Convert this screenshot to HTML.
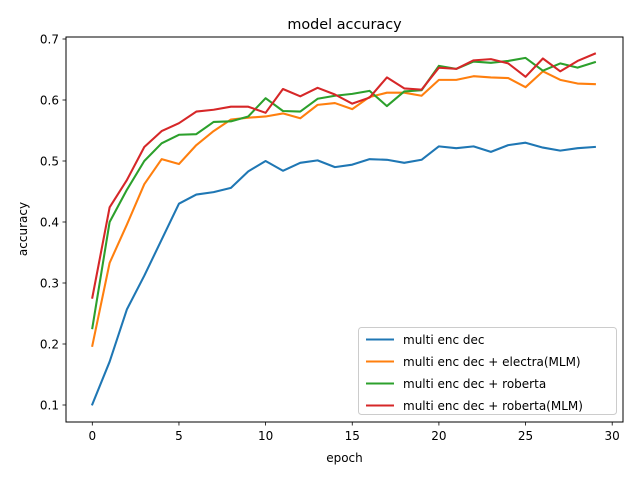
<!DOCTYPE html>
<html><head><meta charset="utf-8"><style>
body{margin:0;background:#fff;}
svg{display:block;font-family:"DejaVu Sans","Liberation Sans",sans-serif;}
</style></head><body>
<svg id="chart" width="640" height="480">
<rect width="640" height="480" fill="#fff"/>
<text x="344.5" y="29" font-size="14.4" text-anchor="middle">model accuracy</text>
<g id="plot"></g>
<rect x="66" y="37" width="557" height="385" fill="none" stroke="#000" stroke-width="1"/>
<text x="344.5" y="462" font-size="12" text-anchor="middle">epoch</text>
<text transform="translate(27,229) rotate(-90)" font-size="12" text-anchor="middle">accuracy</text>
<g id="legend"></g>
</svg>
<script>
const epochs=[0,1,2,3,4,5,6,7,8,9,10,11,12,13,14,15,16,17,18,19,20,21,22,23,24,25,26,27,28,29];
const seriesNames=["multi enc dec","multi enc dec + electra(MLM)","multi enc dec + roberta","multi enc dec + roberta(MLM)"];
const seriesColors=["#1f77b4","#ff7f0e","#2ca02c","#d62728"];
const blueValues=[0.101,0.171,0.257,0.312,0.371,0.430,0.445,0.449,0.456,0.483,0.500,0.484,0.497,0.501,0.490,0.494,0.503,0.502,0.497,0.502,0.524,0.521,0.524,0.515,0.526,0.530,0.522,0.517,0.521,0.523];
const orangeValues=[0.197,0.333,0.396,0.462,0.503,0.495,0.526,0.549,0.568,0.571,0.573,0.578,0.570,0.592,0.595,0.585,0.605,0.612,0.612,0.607,0.633,0.633,0.639,0.637,0.636,0.621,0.647,0.633,0.627,0.626];
const greenValues=[0.226,0.400,0.453,0.500,0.529,0.543,0.544,0.564,0.565,0.573,0.603,0.582,0.581,0.602,0.607,0.610,0.615,0.590,0.614,0.616,0.656,0.651,0.663,0.661,0.664,0.669,0.648,0.660,0.653,0.662];
const redValues=[0.276,0.424,0.469,0.523,0.549,0.562,0.581,0.584,0.589,0.589,0.579,0.618,0.606,0.620,0.609,0.594,0.604,0.637,0.619,0.617,0.653,0.651,0.665,0.667,0.660,0.638,0.668,0.647,0.664,0.676];
const xTicks=[0,5,10,15,20,25,30];
const yTicks=[0.1,0.2,0.3,0.4,0.5,0.6,0.7];
const allSeries=[blueValues,orangeValues,greenValues,redValues];
const NS="http://www.w3.org/2000/svg";
function xs(v){return 92.3+v*17.33;}
function ys(v){return 405-(v-0.1)*610;}
const plot=document.getElementById('plot');
function mk(tag,attrs,parent){const e=document.createElementNS(NS,tag);for(const k in attrs)e.setAttribute(k,attrs[k]);parent.appendChild(e);return e;}
xTicks.forEach(t=>{
  const l=mk('line',{x1:xs(t),x2:xs(t),y1:422,y2:425.5,stroke:'#000','stroke-width':0.8},plot);
  
  
  const tx=mk('text',{x:xs(t),y:440,'font-size':12,'text-anchor':'middle'},plot);
  tx.textContent=String(t);
  
  
});
yTicks.forEach(t=>{
  const l=mk('line',{x1:62.5,x2:66,y1:ys(t),y2:ys(t),stroke:'#000','stroke-width':0.8},plot);
  
  
  const tx=mk('text',{x:59,y:ys(t)+4.5,'font-size':12,'text-anchor':'end'},plot);
  tx.textContent=t.toFixed(1);
  
  
});
allSeries.forEach((vals,i)=>{
  const pts=vals.map((v,j)=>xs(epochs[j]).toFixed(2)+','+ys(v).toFixed(2)).join(' ');
  const p=mk('polyline',{points:pts,fill:'none',stroke:seriesColors[i],'stroke-width':2.08,'stroke-linejoin':'round','stroke-linecap':'square'},plot);
  
  
});
const lg=document.getElementById('legend');
const box=mk('rect',{x:358.5,y:327.5,width:258,height:87,rx:3,fill:'#fff','fill-opacity':0.8,stroke:'#ccc','stroke-width':1},lg);


seriesNames.forEach((n,i)=>{
  const y=339.5+i*22;
  const l=mk('line',{x1:366,x2:394,y1:y,y2:y,stroke:seriesColors[i],'stroke-width':2.08},lg);
  
  
  const t=mk('text',{x:403,y:y+4.5,'font-size':12},lg);
  t.textContent=n;
  
  
});
</script>
</body></html>
